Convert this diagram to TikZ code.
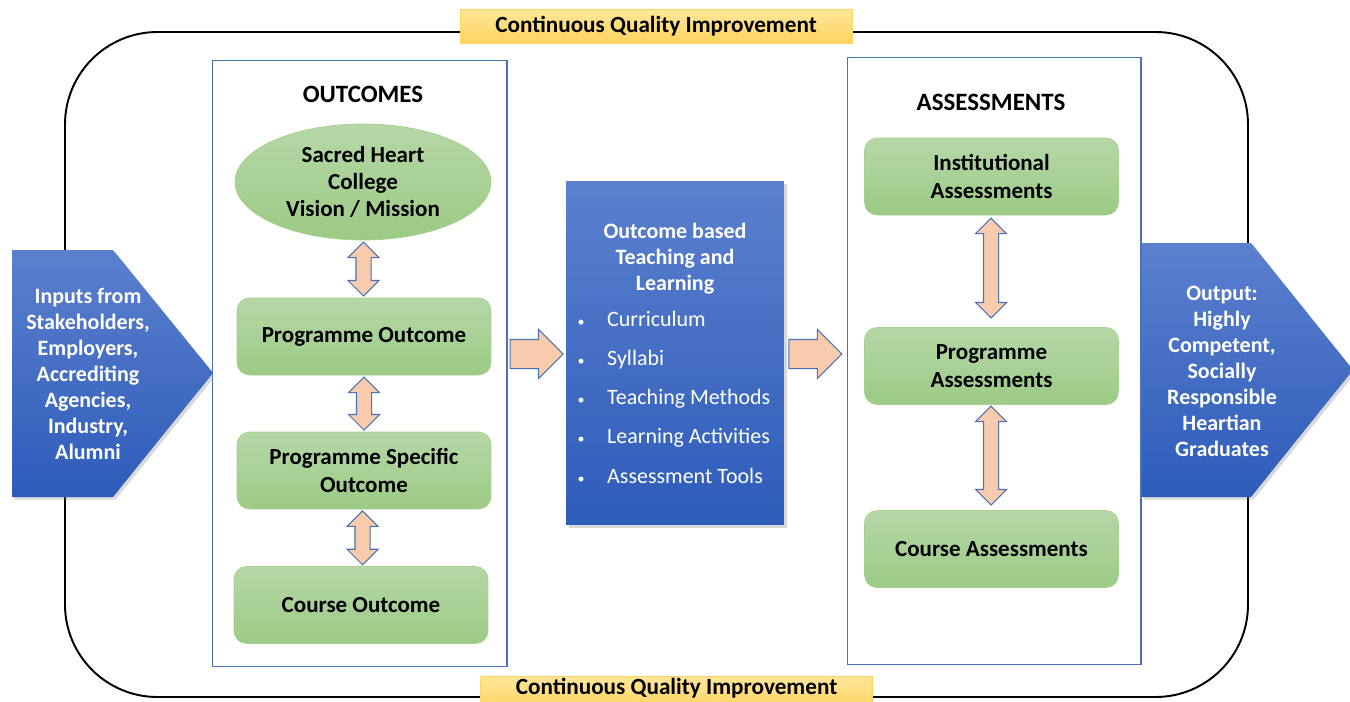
\documentclass[tikz,border=0pt]{standalone}
\usepackage{fontspec}
\setmainfont{Carlito}
\usepackage{xcolor}
\usetikzlibrary{shapes.geometric,shapes.arrows,calc,shadows}

\definecolor{grnTop}{HTML}{B6D7A8}
\definecolor{grnBot}{HTML}{9CCA85}
\definecolor{grnEdge}{HTML}{A8D08D}
\definecolor{bluTop}{HTML}{5B80CE}
\definecolor{bluBot}{HTML}{2D5CBA}
\definecolor{peach}{HTML}{F8CBAD}
\definecolor{edgeBlue}{HTML}{4A72B8}
\definecolor{cqiTop}{HTML}{FFE699}
\definecolor{cqiBot}{HTML}{FFD45F}

\begin{document}
\begin{tikzpicture}[x=0.02cm, y=-0.02cm,
  every node/.style={font=\fontsize{13.1}{15.6}\selectfont\bfseries},
  panel/.style={draw=edgeBlue, line width=0.6pt, fill=white},
  ttl/.style={font=\fontsize{14.2}{16}\selectfont\bfseries},
  gbox/.style={draw=grnEdge, rounded corners=0.25cm, top color=grnTop,
               bottom color=grnBot, minimum width=5.08cm, minimum height=1.54cm,
               align=center},
  bshade/.style={top color=bluTop, bottom color=bluBot,
                 drop shadow={opacity=0.3, shadow xshift=1.5pt, shadow yshift=-1.5pt}},
  wtext/.style={text=white, align=center,
                font=\fontsize{12.5}{14.8}\selectfont\bfseries},
  item/.style={text=white, font=\fontsize{12.5}{15}\selectfont,
               text height=1.6ex, text depth=0.4ex},
  cqi/.style={draw=cqiBot, top color=cqiTop, bottom color=cqiBot,
              minimum width=7.84cm, minimum height=0.67cm},
  dbl/.style={double arrow, rotate=90, draw=edgeBlue, fill=peach, line width=0.6pt,
              inner xsep=0pt, inner ysep=0.14cm, double arrow head extend=0.16cm},
  sgl/.style={single arrow, draw=edgeBlue, fill=peach, line width=0.6pt,
              inner xsep=0pt, inner ysep=0.28cm, single arrow head extend=0.2cm,
              minimum height=1.06cm, anchor=tail}
]
\clip (0,0) rectangle (1350,701);

% quality loop behind everything
\draw[line width=1.1pt, rounded corners=1.85cm] (65,32) rectangle (1248,697);
\node[cqi, font=\fontsize{13.2}{15}\selectfont\bfseries] (cqitop) at (656,26.5)
  {Continuous Quality Improvement};
\node[cqi] (cqibot) at (676.5,693) {};
\node[font=\fontsize{13.2}{15}\selectfont\bfseries] (cqibottxt) at (676.5,688)
  {Continuous Quality Improvement};

% input / output pentagons
\path[bshade] (12,250) -- (113,250) -- (213,373) -- (113,497) -- (12,497) -- cycle;
\node[wtext] (inp) at (88,374) {Inputs from\\Stakeholders,\\Employers,\\Accrediting\\Agencies,\\Industry,\\Alumni};
\path[bshade] (1141,243) -- (1251,243) -- (1353,370) -- (1251,497) -- (1141,497) -- cycle;
\node[wtext] (outp) at (1222,371) {Output:\\Highly\\Competent,\\Socially\\Responsible\\Heartian\\Graduates};

% outcomes column
\node[panel, minimum width=5.9cm, minimum height=12.14cm] (outcomes) at (359.5,363.5) {};
\node[ttl] (outttl) at (363,94) {OUTCOMES};
\node[ellipse, draw=grnEdge, top color=grnTop, bottom color=grnBot, inner sep=0pt,
      minimum width=5.12cm, minimum height=2.32cm, align=center]
      (vis) at (363,182) {Sacred Heart\\College\\Vision / Mission};
\node[gbox] (po)  at (364,336.5) {Programme Outcome};
\node[gbox] (pso) at (364,470.5) {Programme Specific\\Outcome};
\node[gbox] (co)  at (361,605)   {Course Outcome};
\node[dbl, minimum height=1.08cm] (a1) at ($(vis.south)!0.5!(po.north)$) {};
\node[dbl, minimum height=1.06cm] (a2) at ($(po.south)!0.5!(pso.north)$) {};
\node[dbl, minimum height=1.08cm] (a3) at ($(pso.south)!0.5!(co.north)$) {};

% teaching and learning
\node[bshade, minimum width=4.36cm, minimum height=6.88cm] (mid) at (675,353) {};
\node[wtext] (midttl) at (675,259) {Outcome based\\Teaching and\\Learning};
\foreach \txt [count=\i] in {Curriculum, Syllabi, Teaching Methods,
                             Learning Activities, Assessment Tools} {
  \node[item, font=\fontsize{8}{9}\selectfont] (b\i) at (581,282+39.2*\i) {\textbullet};
  \node[item, anchor=west] (t\i) at (601,282+39.2*\i) {\txt};
}

% assessments column
\node[panel, minimum width=5.88cm, minimum height=12.16cm] (assess) at (994,361) {};
\node[ttl] (assttl) at (991,102) {ASSESSMENTS};
\node[gbox] (ia) at (991.5,176.5) {Institutional\\Assessments};
\node[gbox] (pa) at (991.5,366)   {Programme\\Assessments};
\node[gbox] (ca) at (991.5,549)   {Course Assessments};
\node[dbl, minimum height=2.0cm]  (a4) at (991,268) {};
\node[dbl, minimum height=1.98cm] (a5) at (991,455.5) {};

% flow arrows
\node[sgl] (f1) at ($(outcomes.east |- mid.west)+(2,1)$) {};
\node[sgl] (f2) at ($(mid.east)+(4,1)$) {};
\end{tikzpicture}
\end{document}
